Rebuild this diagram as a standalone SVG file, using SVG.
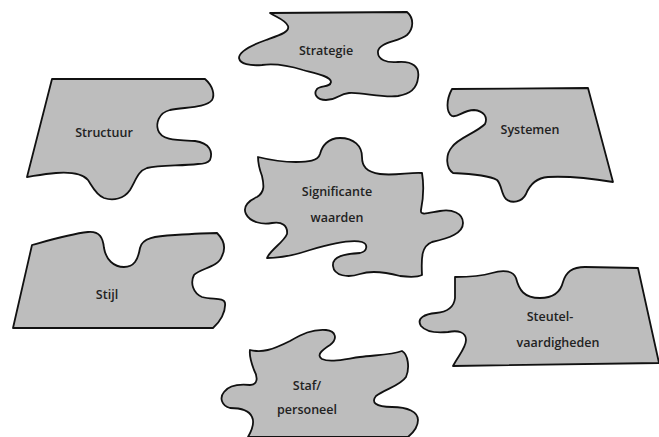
<svg xmlns="http://www.w3.org/2000/svg" width="659" height="437" viewBox="0 0 659 437">
<style>
.p{fill:#bdbdbd;stroke:#111;stroke-width:1.8;stroke-linejoin:round}
.t{font-family:"Open Sans","Noto Sans","Liberation Sans",sans-serif;font-size:12.5px;font-weight:600;fill:#222;text-anchor:middle}
</style>
<rect width="659" height="437" fill="#fff"/>
<g id="strategie">
<path class="p" d="M270,13 L407,12 C414,18 414,28 407,35 C398,42 380,42 378,51 C377,60 387,63 398,62 C413,61 420,67 418,78 C417,88 411,94 398,96 C382,98 362,92 349,93 C338,94 338,100 326,100 C317,100 313,94 317,89 C321,85 330,88 331,82 C331,76 314,73 303,70 C290,66 276,63 262,65 C250,66 240,64 239,58 C239,51 252,45 266,40 C280,35 290,32 288,26 C286,20 276,17 270,13 Z"/>
<text class="t" x="326" y="55">Strategie</text>
</g>
<g id="structuur">
<path class="p" d="M52,79 L205,79 C213,86 215,95 212,100 C206,108 185,107 170,110 C158,113 156,124 158,130 C161,140 175,140 195,141 C210,143 213,152 210,160 C207,164 202,164 198,164 C180,166 160,165 147,168 C138,171 136,180 130,190 C124,199 113,201 104,198 C96,195 92,186 88,180 C82,173 70,172 56,173 C44,174 34,176 27,177 Z"/>
<text class="t" x="104" y="137">Structuur</text>
</g>
<g id="systemen">
<path class="p" d="M452,89 L588,88 L613,182 C595,179 568,176 548,177 C536,178 530,184 526,194 C522,202 512,204 506,199 C501,194 502,185 497,180 C490,176 475,174 453,173 C446,168 445,155 452,147 C458,138 476,133 485,124 C488,117 484,111 474,110 C463,110 458,118 452,116 C446,112 446,100 452,89 Z"/>
<text class="t" x="530" y="134">Systemen</text>
</g>
<g id="significante">
<path class="p" d="M258,157 C270,160 282,162 296,162 C308,162 318,161 320,154 C322,146 328,138 340,138 C354,138 362,146 362,157 C362,166 366,172 380,174 C395,176 410,172 422,173 C424,185 423,200 421,210 C420,216 428,213 440,211 C452,209 463,213 463,223 C463,233 450,238 432,242 C422,246 421,256 422,275 C416,278 408,277 400,276 C385,272 372,270 360,274 C348,278 334,276 333,266 C332,256 345,254 360,253 C368,251 368,244 362,242 C350,239 330,244 310,250 C295,255 280,258 267,258 C270,250 284,242 287,234 C288,226 282,221 272,223 C262,225 250,222 246,214 C242,206 250,200 257,197 C265,192 264,185 262,176 C259,168 258,162 258,157 Z"/>
<text class="t" x="337" y="196">Significante</text>
<text class="t" x="337" y="222">waarden</text>
</g>
<g id="stijl">
<path class="p" d="M32,245 C50,240 70,234 88,232 C100,231 103,238 104,248 C106,260 114,267 124,267 C134,267 138,260 140,248 C142,238 155,236 175,235 C190,234 205,233 217,233 C224,240 226,248 222,256 C218,268 200,268 194,275 C190,283 193,293 202,297 C212,300 224,297 225,303 C226,312 220,322 213,328 L13,328 Z"/>
<text class="t" x="107" y="299">Stijl</text>
</g>
<g id="steutel">
<path class="p" d="M455,277 C470,277 482,276 492,273 C502,270 513,270 516,278 C519,290 524,298 540,298 C552,298 560,294 563,282 C566,272 572,267 585,267 L638,268 L659,363 L453,366 C458,356 466,348 466,340 C466,332 458,330 448,332 C438,333 426,332 421,326 C416,318 425,314 436,313 C446,312 454,308 455,298 Z"/>
<text class="t" x="550" y="321">Steutel-</text>
<text class="t" x="558" y="347">vaardigheden</text>
</g>
<g id="staf">
<path class="p" d="M250,350 C262,353 272,350 290,341 C302,334 312,329 326,330 C336,331 338,339 330,345 C322,350 316,355 322,359 C330,363 345,359 360,357 C375,355 392,355 402,351 C408,354 410,368 406,377 C400,386 385,389 376,396 C371,402 375,407 392,407 C408,407 418,412 418,420 C418,427 414,432 408,437 L248,437 C252,430 255,423 252,417 C249,410 240,408 230,408 C222,406 219,398 224,392 C229,385 240,384 250,385 C258,385 258,377 254,370 C251,362 249,356 250,350 Z"/>
<text class="t" x="307" y="390">Staf/</text>
<text class="t" x="307" y="414">personeel</text>
</g>
</svg>
